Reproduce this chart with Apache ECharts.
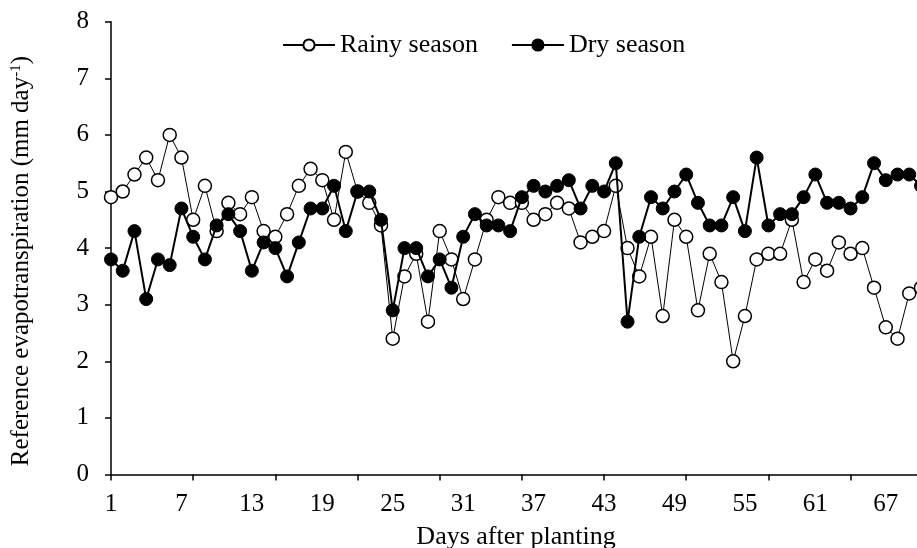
<!DOCTYPE html>
<html>
<head>
<meta charset="utf-8">
<script src="https://cdn.jsdelivr.net/npm/echarts@6/dist/echarts.min.js"></script>
<style>
    html, body { margin: 0; padding: 0; background: #fff; }
    #chart { width: 917px; height: 548px; }
</style>
</head>
<body>
<div id="chart"></div>
<script>
// days after planting (the last one is cut by the frame)
var days = [];
for (var d = 1; d <= 70; d++) days.push(String(d));

// reference ET, mm/day
var rainySeason = [4.9, 5.0, 5.3, 5.6, 5.2, 6.0, 5.6, 4.5, 5.1, 4.3,
                   4.8, 4.6, 4.9, 4.3, 4.2, 4.6, 5.1, 5.4, 5.2, 4.5,
                   5.7, 5.0, 4.8, 4.4, 2.4, 3.5, 3.9, 2.7, 4.3, 3.8,
                   3.1, 3.8, 4.5, 4.9, 4.8, 4.8, 4.5, 4.6, 4.8, 4.7,
                   4.1, 4.2, 4.3, 5.1, 4.0, 3.5, 4.2, 2.8, 4.5, 4.2,
                   2.9, 3.9, 3.4, 2.0, 2.8, 3.8, 3.9, 3.9, 4.5, 3.4,
                   3.8, 3.6, 4.1, 3.9, 4.0, 3.3, 2.6, 2.4, 3.2, 3.3];
var drySeason = [3.8, 3.6, 4.3, 3.1, 3.8, 3.7, 4.7, 4.2, 3.8, 4.4,
                 4.6, 4.3, 3.6, 4.1, 4.0, 3.5, 4.1, 4.7, 4.7, 5.1,
                 4.3, 5.0, 5.0, 4.5, 2.9, 4.0, 4.0, 3.5, 3.8, 3.3,
                 4.2, 4.6, 4.4, 4.4, 4.3, 4.9, 5.1, 5.0, 5.1, 5.2,
                 4.7, 5.1, 5.0, 5.5, 2.7, 4.2, 4.9, 4.7, 5.0, 5.3,
                 4.8, 4.4, 4.4, 4.9, 4.3, 5.6, 4.4, 4.6, 4.6, 4.9,
                 5.3, 4.8, 4.8, 4.7, 4.9, 5.5, 5.2, 5.3, 5.3, 5.1];

var font = 'Liberation Serif';

var chart = echarts.init(document.getElementById('chart'), null, {renderer: 'canvas'});
var option = {
    backgroundColor: '#fff',
    animation: false,
    textStyle: {fontFamily: font, color: '#000'},
    legend: {
        left: 277,
        top: 27,
        itemWidth: 52,
        itemHeight: 14,
        itemGap: 33,
        textStyle: {fontFamily: font, fontSize: 26, color: '#000'},
        data: ['Rainy season', 'Dry season']
    },
    grid: {
        left: 111,
        top: 21.7,
        width: 810,   // runs past the right edge, like the original crop
        bottom: 73.5,
        outerBoundsMode: 'none'
    },
    xAxis: {
        type: 'category',
        data: days,
        boundaryGap: false,
        name: 'Days after planting',
        nameLocation: 'middle',
        nameGap: 50,
        nameTextStyle: {fontFamily: font, fontSize: 26, color: '#000'},
        axisLine: {lineStyle: {color: '#000', width: 1.5}},
        axisTick: {show: true, interval: 6, length: 6, lineStyle: {color: '#000', width: 1.5}},
        axisLabel: {interval: 5, margin: 17, fontFamily: font, fontSize: 25, color: '#000'},
        splitLine: {show: false}
    },
    yAxis: {
        type: 'value',
        min: 0,
        max: 8,
        interval: 1,
        name: 'Reference evapotranspiration (mm day{sup|-1})',
        nameLocation: 'middle',
        nameGap: 77,
        nameTextStyle: {
            fontFamily: font, fontSize: 25, color: '#000',
            padding: [0, 26, 0, 0],
            rich: {sup: {fontFamily: font, fontSize: 15, color: '#000', verticalAlign: 'top', lineHeight: 25}}
        },
        axisLine: {show: true, lineStyle: {color: '#000', width: 1.5}},
        axisTick: {show: true, length: 6, lineStyle: {color: '#000', width: 1.5}},
        axisLabel: {margin: 22, fontFamily: font, fontSize: 25, color: '#000'},
        splitLine: {show: false}
    },
    series: [
        {
            name: 'Rainy season',
            type: 'line',
            data: rainySeason,
            symbol: 'circle',
            symbolSize: 13,
            showAllSymbol: true,
            lineStyle: {color: '#000', width: 1},
            itemStyle: {color: '#fff', borderColor: '#000', borderWidth: 1.5},
            z: 2
        },
        {
            name: 'Dry season',
            type: 'line',
            data: drySeason,
            symbol: 'circle',
            symbolSize: 13,
            showAllSymbol: true,
            lineStyle: {color: '#000', width: 2},
            itemStyle: {color: '#000', borderColor: '#000', borderWidth: 1},
            z: 3
        }
    ]
};
chart.setOption(option);
</script>
</body>
</html>
